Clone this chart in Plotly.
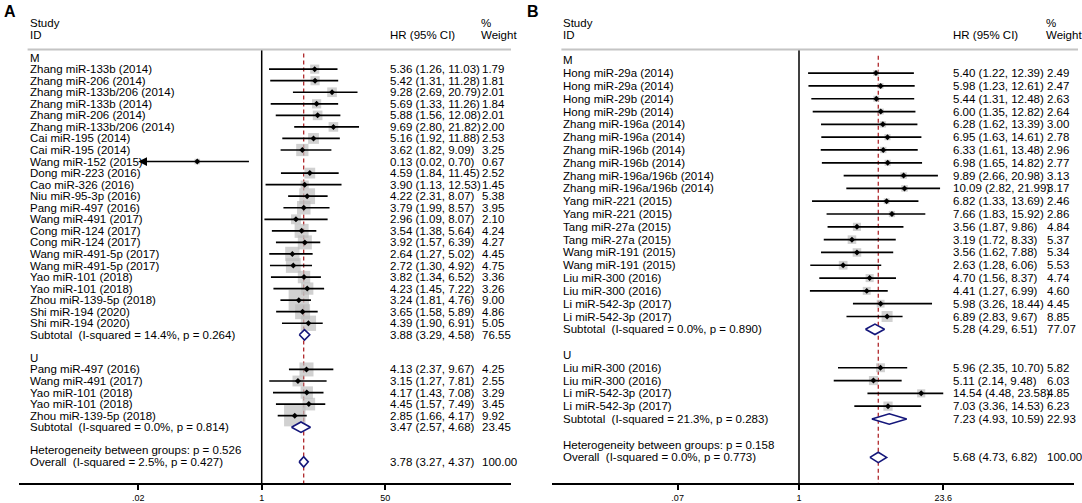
import math
import plotly.graph_objects as go

# ---------------- data: panel A ----------------
a_study = ["Zhang miR-133b (2014)", "Zhang miR-206 (2014)", "Zhang miR-133b/206 (2014)",
           "Zhang miR-133b (2014)", "Zhang miR-206 (2014)", "Zhang miR-133b/206 (2014)",
           "Cai miR-195 (2014)", "Cai miR-195 (2014)", "Wang miR-152 (2015)",
           "Dong miR-223 (2016)", "Cao miR-326 (2016)", "Niu miR-95-3p (2016)",
           "Pang miR-497 (2016)", "Wang miR-491 (2017)", "Cong miR-124 (2017)",
           "Cong miR-124 (2017)", "Wang miR-491-5p (2017)", "Wang miR-491-5p (2017)",
           "Yao miR-101 (2018)", "Yao miR-101 (2018)", "Zhou miR-139-5p (2018)",
           "Shi miR-194 (2020)", "Shi miR-194 (2020)",
           "Pang miR-497 (2016)", "Wang miR-491 (2017)", "Yao miR-101 (2018)",
           "Yao miR-101 (2018)", "Zhou miR-139-5p (2018)"]
a_group = ["M"] * 23 + ["U"] * 5
a_hr = [5.36, 5.42, 9.28, 5.69, 5.88, 9.69, 5.16, 3.62, 0.13, 4.59, 3.90, 4.22, 3.79, 2.96,
        3.54, 3.92, 2.64, 2.72, 3.82, 4.23, 3.24, 3.65, 4.39,
        4.13, 3.15, 4.17, 4.45, 2.85]
a_lo = [1.26, 1.31, 2.69, 1.33, 1.56, 2.80, 1.92, 1.82, 0.02, 1.84, 1.13, 2.31, 1.99, 1.09,
        1.38, 1.57, 1.27, 1.30, 1.34, 1.45, 1.81, 1.58, 1.90,
        2.37, 1.27, 1.43, 1.57, 1.66]
a_hi = [11.03, 11.28, 20.79, 11.26, 12.08, 21.82, 11.88, 9.09, 0.70, 11.45, 12.53, 8.07, 8.57, 8.07,
        5.64, 6.39, 5.02, 4.92, 6.52, 7.22, 4.76, 5.89, 6.91,
        9.67, 7.81, 7.08, 7.49, 4.17]
a_wt = [1.79, 1.81, 2.01, 1.84, 2.01, 2.00, 2.53, 3.25, 0.67, 2.52, 1.45, 5.38, 3.95, 2.10,
        4.24, 4.27, 4.45, 4.75, 3.36, 3.26, 9.00, 4.86, 5.05,
        4.25, 2.55, 3.29, 3.45, 9.92]
a_sub_label = {"M": "Subtotal  (I-squared = 14.4%, p = 0.264)",
               "U": "Subtotal  (I-squared = 0.0%, p = 0.814)"}
a_sub_est = {"M": (3.88, 3.29, 4.58, 76.55), "U": (3.47, 2.57, 4.68, 23.45)}
a_het = "Heterogeneity between groups: p = 0.526"
a_overall_label = "Overall  (I-squared = 2.5%, p = 0.427)"
a_overall = (3.78, 3.27, 4.37, 100.00)
a_ticks = [0.02, 1, 50]
a_ticktext = [".02", "1", "50"]

# ---------------- data: panel B ----------------
b_study = ["Hong miR-29a (2014)", "Hong miR-29a (2014)", "Hong miR-29b (2014)", "Hong miR-29b (2014)",
           "Zhang miR-196a (2014)", "Zhang miR-196a (2014)", "Zhang miR-196b (2014)",
           "Zhang miR-196b (2014)", "Zhang miR-196a/196b (2014)", "Zhang miR-196a/196b (2014)",
           "Yang miR-221 (2015)", "Yang miR-221 (2015)", "Tang miR-27a (2015)", "Tang miR-27a (2015)",
           "Wang miR-191 (2015)", "Wang miR-191 (2015)", "Liu miR-300 (2016)", "Liu miR-300 (2016)",
           "Li miR-542-3p (2017)", "Li miR-542-3p (2017)",
           "Liu miR-300 (2016)", "Liu miR-300 (2016)", "Li miR-542-3p (2017)", "Li miR-542-3p (2017)"]
b_group = ["M"] * 20 + ["U"] * 4
b_hr = [5.40, 5.98, 5.44, 6.00, 6.28, 6.95, 6.33, 6.98, 9.89, 10.09, 6.82, 7.66, 3.56, 3.19,
        3.56, 2.63, 4.70, 4.41, 5.98, 6.89,
        5.96, 5.11, 14.54, 7.03]
b_lo = [1.22, 1.23, 1.31, 1.35, 1.62, 1.63, 1.61, 1.65, 2.66, 2.82, 1.33, 1.83, 1.87, 1.72,
        1.62, 1.28, 1.56, 1.27, 3.26, 2.83,
        2.35, 2.14, 4.48, 3.36]
b_hi = [12.39, 12.61, 12.48, 12.82, 13.39, 14.61, 13.48, 14.82, 20.98, 21.99, 13.69, 15.92, 9.86, 8.33,
        7.88, 6.06, 8.37, 6.99, 18.44, 9.67,
        10.70, 9.48, 23.58, 14.53]
b_wt = [2.49, 2.47, 2.63, 2.64, 3.00, 2.78, 2.96, 2.77, 3.13, 3.17, 2.46, 2.86, 4.84, 5.37,
        5.34, 5.53, 4.74, 4.60, 4.45, 8.85,
        5.82, 6.03, 4.85, 6.23]
b_sub_label = {"M": "Subtotal  (I-squared = 0.0%, p = 0.890)",
               "U": "Subtotal  (I-squared = 21.3%, p = 0.283)"}
b_sub_est = {"M": (5.28, 4.29, 6.51, 77.07), "U": (7.23, 4.93, 10.59, 22.93)}
b_het = "Heterogeneity between groups: p = 0.158"
b_overall_label = "Overall  (I-squared = 0.0%, p = 0.773)"
b_overall = (5.68, 4.73, 6.82, 100.00)
b_ticks = [0.07, 1, 23.6]
b_ticktext = [".07", "1", "23.6"]

W, H = 1082, 503
FONT = "Liberation Sans, Arial, sans-serif"
NAVY = "#14167a"
AXIS_PX = 483  # pixel row of the x axis line


def sp(s):
    # keep double spaces in svg text
    return s.replace("  ", "\u00a0\u00a0")


fig = go.Figure()
annotations = []
shapes = []


def add_panel(xa, ya, letter, pos, study, group, hr, lo, hi, wt, sub_label, sub_est,
              het, overall_label, overall, ticks, ticktext):
    xref = "x" if xa == 1 else "x%d" % xa
    yref = "y" if ya == 1 else "y%d" % ya
    y0, dy = pos["row0"], pos["dy"]
    ybot = (AXIS_PX - y0) / dy
    ytop = -y0 / dy
    xmin_ln = math.log(ticks[0])
    # x axis: log, range set from pixel geometry
    ppl = pos["ppl"]  # pixels per log10 unit
    rng = [(pos["axis_l"] - pos["one"]) / ppl, (pos["axis_r"] - pos["one"]) / ppl]
    axkey = "xaxis" if xa == 1 else "xaxis%d" % xa
    aykey = "yaxis" if ya == 1 else "yaxis%d" % ya
    fig.layout[axkey] = dict(type="log", range=rng, domain=[pos["axis_l"] / W, pos["axis_r"] / W],
                             anchor=yref, showline=True, linecolor="black", linewidth=1.8,
                             ticks="outside", ticklen=5, tickwidth=1.5, tickcolor="black",
                             tickvals=ticks, ticktext=ticktext, showgrid=False, zeroline=False,
                             tickfont=dict(family=FONT, size=9, color="black"), fixedrange=True)
    fig.layout[aykey] = dict(range=[ybot, ytop], domain=[(H - AXIS_PX) / H, 1], anchor=xref,
                             visible=False, fixedrange=True)

    # row layout
    rows, r = [], 0
    sub_rows = {}
    head_rows = {}
    for g in ["M", "U"]:
        head_rows[g] = r
        r += 1
        for i in range(len(study)):
            if group[i] == g:
                rows.append((i, r))
                r += 1
        sub_rows[g] = r
        r += 2
    het_row = r
    ov_row = r + 1

    # dashed overall line and null line
    fig.add_trace(go.Scatter(x=[overall[0], overall[0]], y=[-0.35, ybot], mode="lines",
                             line=dict(color="#b0282c", width=1.3, dash="4px,3px"),
                             xaxis=xref, yaxis=yref, hoverinfo="skip"))
    fig.add_trace(go.Scatter(x=[1, 1], y=[pos["hline"], ybot], mode="lines",
                             line=dict(color="black", width=1.5),
                             xaxis=xref, yaxis=yref, hoverinfo="skip"))

    # weight boxes
    fig.add_trace(go.Scatter(x=[hr[i] for i, _ in rows], y=[rr for _, rr in rows], mode="markers",
                             marker=dict(symbol="square", color="#bdbdbd",
                                         size=[pos["box"] * math.sqrt(wt[i]) for i, _ in rows],
                                         line=dict(width=0)),
                             xaxis=xref, yaxis=yref, hoverinfo="skip"))
    # CI lines (arrow when the lower limit runs off the axis)
    cx, cy = [], []
    for i, rr in rows:
        if math.log(lo[i]) <= xmin_ln:
            annotations.append(dict(x=math.log10(ticks[0]), y=rr, ax=math.log10(hi[i]), ay=rr,
                                    xref=xref, yref=yref, axref=xref, ayref=yref, text="",
                                    showarrow=True, arrowhead=2, arrowsize=1.1, arrowwidth=1.6,
                                    arrowcolor="black"))
            continue
        cx += [lo[i], hi[i], None]
        cy += [rr, rr, None]
    fig.add_trace(go.Scatter(x=cx, y=cy, mode="lines", line=dict(color="black", width=1.7),
                             xaxis=xref, yaxis=yref, hoverinfo="skip"))
    fig.add_trace(go.Scatter(x=[hr[i] for i, _ in rows], y=[rr for _, rr in rows], mode="markers",
                             marker=dict(symbol="diamond", color="black", size=4.6),
                             xaxis=xref, yaxis=yref, hoverinfo="skip"))

    # pooled diamonds
    pooled = [(sub_est[g], sub_rows[g]) for g in ["M", "U"]] + [(overall, ov_row)]
    hh = 5.2 / dy
    for (est, l, u, _), rr in pooled:
        fig.add_trace(go.Scatter(x=[l, est, u, est, l], y=[rr, rr - hh, rr, rr + hh, rr],
                                 mode="lines", fill="toself", fillcolor="white",
                                 line=dict(color=NAVY, width=1.6),
                                 xaxis=xref, yaxis=yref, hoverinfo="skip"))

    # text columns
    def txt(x, y, s, yr=yref):
        annotations.append(dict(x=x / W, y=y, xref="paper", yref=yr, text=s, showarrow=False,
                                xanchor="left", yanchor="middle",
                                font=dict(family=FONT, size=11.5, color="black")))

    for g in ["M", "U"]:
        txt(pos["lab"], head_rows[g], g)
        est, l, u, w = sub_est[g]
        txt(pos["lab"], sub_rows[g], sp(sub_label[g]))
        txt(pos["hr"], sub_rows[g], "%.2f (%.2f, %.2f)" % (est, l, u))
        txt(pos["wt"], sub_rows[g], "%.2f" % w)
    for i, rr in rows:
        txt(pos["lab"], rr, study[i])
        txt(pos["hr"], rr, "%.2f (%.2f, %.2f)" % (hr[i], lo[i], hi[i]))
        txt(pos["wt"], rr, "%.2f" % wt[i])
    txt(pos["lab"], het_row, het)
    txt(pos["lab"], ov_row, sp(overall_label))
    txt(pos["hr"], ov_row, "%.2f (%.2f, %.2f)" % overall[:3])
    txt(pos["wt"], ov_row, "%.2f" % overall[3])

    # header
    txt(pos["lab"], pos["hdr1"], "Study")
    txt(pos["lab"], pos["hdr2"], "ID")
    txt(pos["hr"], pos["hdr2"], "HR (95% CI)")
    txt(pos["pct"], pos["hdr1"], "%")
    txt(pos["pct"], pos["hdr2"], "Weight")
    shapes.append(dict(type="line", xref="paper", yref=yref, x0=pos["lab"] / W, x1=pos["hl_r"] / W,
                       y0=pos["hline"], y1=pos["hline"], line=dict(color="#c4c4c4", width=1.8)))
    annotations.append(dict(x=pos["letter_x"] / W, y=1 - 12 / H, xref="paper", yref="paper",
                            text="<b>%s</b>" % letter, showarrow=False, xanchor="center",
                            yanchor="middle", font=dict(family=FONT, size=16, color="black")))


def rows_px(px, y0, dy):
    return (px - y0) / dy


posA = dict(row0=57.6, dy=11.55, one=261.7, ppl=72.7, axis_l=19, axis_r=511,
            lab=27.6, hr=388, wt=480, pct=479, hl_r=511, letter_x=9.5, box=6.8)
posB = dict(row0=60.3, dy=12.81, one=799.0, ppl=105.1, axis_l=552, axis_r=1074,
            lab=561.4, hr=950.5, wt=1045, pct=1044, hl_r=1078, letter_x=533, box=3.7)
for p in (posA, posB):
    p.update(hdr1=rows_px(23.0, p["row0"], p["dy"]), hdr2=rows_px(35.0, p["row0"], p["dy"]),
             hline=rows_px(49.5, p["row0"], p["dy"]))

add_panel(1, 1, "A", posA, a_study, a_group, a_hr, a_lo, a_hi, a_wt, a_sub_label, a_sub_est,
          a_het, a_overall_label, a_overall, a_ticks, a_ticktext)
add_panel(2, 2, "B", posB, b_study, b_group, b_hr, b_lo, b_hi, b_wt, b_sub_label, b_sub_est,
          b_het, b_overall_label, b_overall, b_ticks, b_ticktext)

fig.update_layout(width=W, height=H, margin=dict(l=0, r=0, t=0, b=0), autosize=False,
                  paper_bgcolor="white", plot_bgcolor="white", showlegend=False,
                  annotations=annotations, shapes=shapes)
# drop the browser's default 8px body margin so the figure sits at the page corner
fig.write_html("out.html", config={"displayModeBar": False},
               post_script="document.body.style.margin='0px';document.body.style.overflow='hidden';")
